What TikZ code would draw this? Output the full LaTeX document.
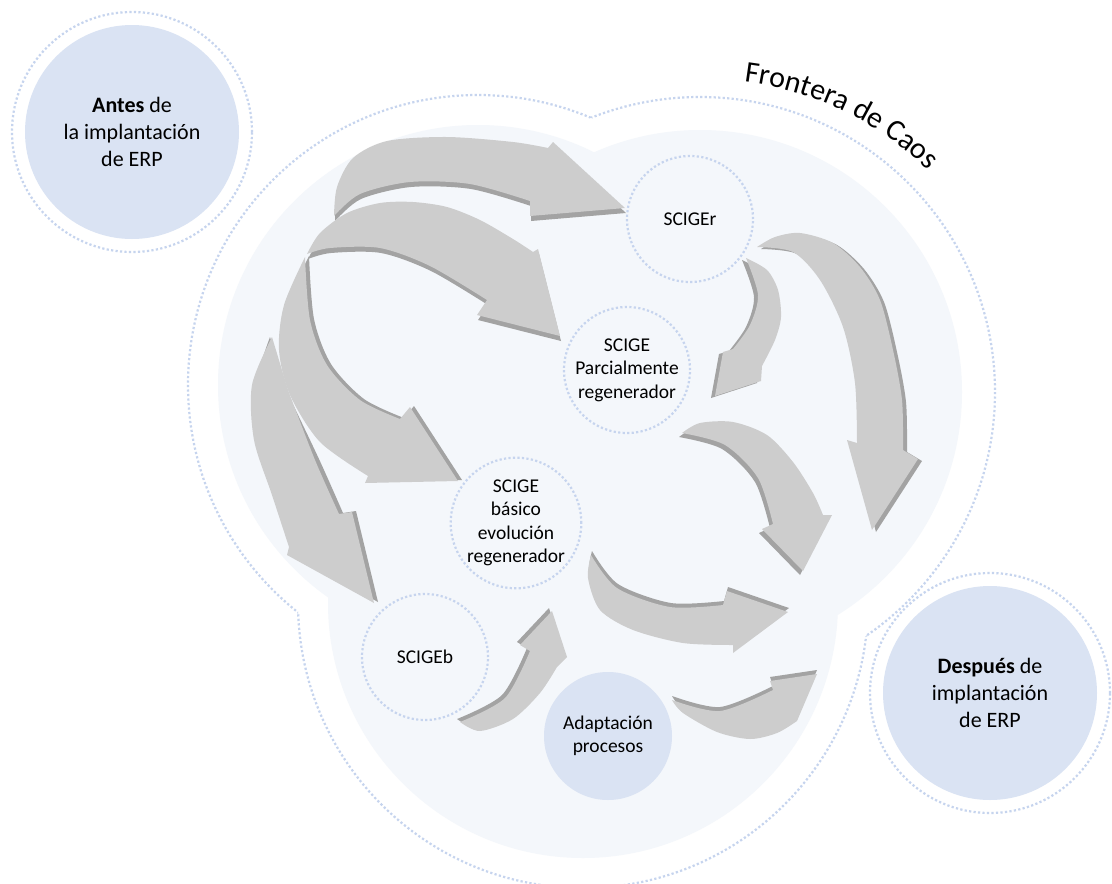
\documentclass[tikz,border=0pt]{standalone}
\usepackage{fontspec}
\setmainfont{Carlito}
\usetikzlibrary{decorations.text}

\definecolor{pale}{HTML}{F4F7FB}
\definecolor{ringblue}{HTML}{C6D4EE}
\definecolor{softblue}{HTML}{DAE3F3}
\definecolor{arrowface}{HTML}{CDCDCD}
\definecolor{arrowedge}{HTML}{A3A3A3}

\tikzset{
  dots/.style={draw=ringblue, line width=2.2pt, dash pattern=on 2.2pt off 2.3pt},
  stage/.style={circle, dots, minimum size=126pt, inner sep=0pt, align=center,
    font=\fontsize{19.5}{23.5}\selectfont},
  bluedisc/.style={circle, fill=softblue, inner sep=0pt, align=center},
  milestone/.style={bluedisc, minimum size=214pt, font=\fontsize{22}{27}\selectfont},
  halo/.style={circle, dots, minimum size=240pt, inner sep=0pt},
}

% everything outside the circle (#1,#2) of radius #3
\newcommand\clipoutside[3]{\clip (-20,-20) -- (1132,-20) -- (1132,904) -- (-20,904) -- cycle
  ({#1+#3},#2) arc[start angle=0, end angle=-360, radius=#3];}
% a raised arrow: darker side shifted by #1 under the light face #2
\newcommand\raisedarrow[2]{\fill[arrowedge, shift={#1}] #2; \fill[arrowface] #2;}

\begin{document}
\begin{tikzpicture}[x=1pt, y=-1pt]
\useasboundingbox (0,0) rectangle (1112,884);
\fill[white] (0,0) rectangle (1112,884);

% the region of the cycle
\fill[pale] (700,392) circle[radius=262] (478,385) circle[radius=260] (583,603) circle[radius=255];

% dotted boundary around the region
\begin{scope}
  \clipoutside{478}{385}{290}\clipoutside{583}{603}{285}
  \draw[dots] (700,392) circle[radius=295];
\end{scope}
\begin{scope}
  \clipoutside{700}{392}{295}\clipoutside{583}{603}{285}
  \draw[dots] (478,385) circle[radius=290];
\end{scope}
\begin{scope}
  \clipoutside{700}{392}{295}\clipoutside{478}{385}{290}
  \draw[dots] (583,603) circle[radius=285];
\end{scope}

% label bent along the boundary
\begin{scope}[y=1pt]
  \path[decorate, decoration={text along path, text align=left,
      text={|\fontsize{30}{30}\selectfont|Frontera de Caos}}]
    (744,-82) arc[start angle=83, end angle=20, radius=320];
\end{scope}

% stages
\node[stage] (scigeR) at (690,219) {SCIGEr};
\node[stage] (scigeP) at (627,370) {SCIGE\\Parcialmente\\regenerador};
\node[stage] (scigeB) at (516,523) {SCIGE\\básico\\evolución\\regenerador};
\node[stage] (scigeb) at (425,657) {SCIGEb};
\node[bluedisc, minimum size=128pt, font=\fontsize{19.5}{23.5}\selectfont] (adapt) at (608,736) {Adaptación\\procesos};

% before / after
\node[halo] (antesring) at (132,132) {};
\node[milestone] (antes) at (132,132) {\textbf{Antes} de\\la implantación\\de ERP};
\node[halo] (despuesring) at (990,693) {};
\node[milestone] (despues) at (990,693) {\textbf{Después} de\\implantación\\de ERP};

% arrows from the left into the stages
\raisedarrow{(1,5)}{plot[smooth] coordinates {(334,216) (337,187) (353,158) (387,141) (447,137) (513,142) (548,148)}
  -- (553,142) -- (625,208) -- (530,216) -- (530,201)
  -- plot[smooth] coordinates {(530,201) (470,184) (410,182) (360,194) (334,216)} -- cycle}
\raisedarrow{(1,5)}{plot[smooth] coordinates {(307,254) (320,233) (347,213) (380,203) (413,202) (447,207) (480,220) (513,239) (533,252)}
  -- (538,249) -- (560,336) -- (477,315) -- (487,300)
  -- plot[smooth] coordinates {(487,300) (430,266) (380,248) (330,248) (307,254)} -- cycle}
\raisedarrow{(4,-1)}{plot[smooth] coordinates {(305,257) (284,305) (279,350) (290,395) (320,442) (368,476)}
  -- (365,483) -- (458,481) -- (410,407) -- (400,419)
  -- plot[smooth] coordinates {(400,419) (360,400) (327,365) (310,320) (305,257)} -- cycle}
\fill[arrowedge, shift={(4,-1)}] plot[smooth] coordinates {(266,338) (252,385) (254,440) (272,495) (289,547)}
  -- (287,555) -- (374,603) -- (352,512) -- (339,514)
  -- plot[smooth] coordinates {(339,514) (315,460) (282,391)} -- cycle;
\fill[arrowface] plot[smooth] coordinates {(272,337) (252,385) (254,440) (272,495) (289,547)}
  -- (287,555) -- (374,603) -- (352,512) -- (339,514)
  -- plot[smooth] coordinates {(339,514) (315,460) (288,390)} -- cycle;

% arrows on the right towards the outcome
\raisedarrow{(-4,2)}{plot[smooth] coordinates {(746,258) (767,270) (778,290) (781,317) (775,340) (762,366)}
  -- (761,381) -- (715,396) -- (723,352) -- (733,349)
  -- plot[smooth] coordinates {(733,349) (750,325) (758,295) (746,258)} -- cycle}
\raisedarrow{(4,2)}{plot[smooth] coordinates {(757,247) (775,237) (800,233) (833,243) (860,267) (880,300) (893,350) (902,400) (903,450)}
  -- (918,459) -- (872,530) -- (847,440) -- (857,443)
  -- plot[smooth] coordinates {(857,443) (855,383) (843,327) (820,280) (793,252) (757,247)} -- cycle}
\raisedarrow{(-3,4)}{plot[smooth] coordinates {(682,433) (700,423) (733,422) (767,435) (793,462) (813,493) (823,515)}
  -- (832,515) -- (803,571) -- (762,529) -- (773,524)
  -- plot[smooth] coordinates {(773,524) (758,478) (725,445) (682,433)} -- cycle}
\raisedarrow{(1,-4)}{plot[smooth] coordinates {(591,555) (588,578) (600,610) (633,630) (683,643) (733,645)}
  -- (733,653) -- (788,612) -- (727,591) -- (723,605)
  -- plot[smooth] coordinates {(723,605) (670,607) (617,588) (591,555)} -- cycle}
\raisedarrow{(-3,-3)}{plot[smooth] coordinates {(460,722) (480,731) (513,719) (540,693) (557,667)}
  -- (567,657) -- (552,611) -- (520,645) -- (530,651)
  -- plot[smooth] coordinates {(530,651) (505,698) (460,722)} -- cycle}
\raisedarrow{(0,-4)}{plot[smooth] coordinates {(672,700) (683,713) (717,732) (750,739) (777,733) (797,721)}
  -- (817,674) -- (770,681) -- (773,690)
  -- plot[smooth] coordinates {(773,690) (720,711) (672,700)} -- cycle}
\end{tikzpicture}
\end{document}
